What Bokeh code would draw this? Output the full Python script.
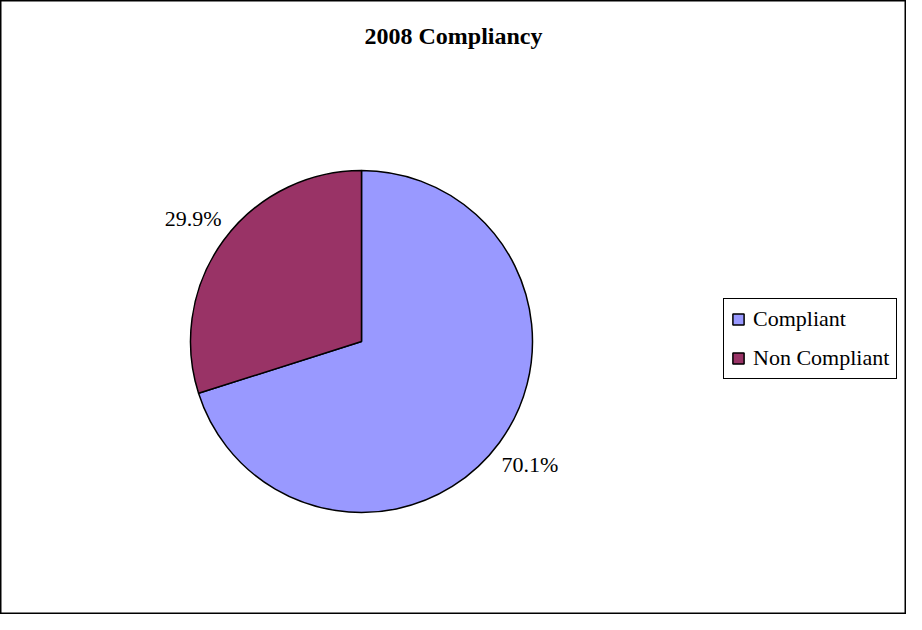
import math
from bokeh.plotting import figure
from bokeh.models import ColumnDataSource, Range1d, Label, Legend, LegendItem
from bokeh.embed import file_html
from bokeh.resources import INLINE

# Data
categories = ["Compliant", "Non Compliant"]
shares = [70.1, 29.9]
colors = ["#9999FF", "#993366"]
title_text = "2008 Compliancy"

W, H = 906, 614
p = figure(width=W, height=H, output_backend="svg", toolbar_location=None,
           x_range=Range1d(0, W), y_range=Range1d(0, H),
           x_axis_type=None, y_axis_type=None, min_border=0,
           outline_line_color="black", outline_line_width=2, outline_line_alpha=1)
p.grid.visible = False
p.background_fill_color = "white"

cx, cy, r = 361, 273, 171
top = math.pi / 2
comp = shares[0] / 100 * 2 * math.pi
non = shares[1] / 100 * 2 * math.pi
start = [top - comp, top]
end = [top, top + non]
mids = [(s + e) / 2 for s, e in zip(start, end)]
k = 1.22
lx = [cx + k * r * math.cos(m) for m in mids]
ly = [cy + k * r * math.sin(m) for m in mids]
labels = [f"{v:.1f}%" for v in shares]

src = ColumnDataSource(dict(cat=categories, start=start, end=end, color=colors,
                            lx=lx, ly=ly, lab=labels))

w = p.wedge(x=cx, y=cy, radius=r, radius_units="screen", start_angle="start", end_angle="end",
            fill_color="color", line_color="black", line_width=1.5, source=src)

p.text(x="lx", y="ly", text="lab", source=src, text_font="Liberation Serif",
       text_font_size="22px", text_align="center", text_baseline="middle", text_color="black")

p.add_layout(Label(x=W / 2, y=H - 22, text=title_text, text_font="Liberation Serif",
                   text_font_size="24px", text_font_style="bold", text_align="center",
                   text_color="black", text_baseline="top", x_units="screen", y_units="screen"))

items = [LegendItem(label=c, renderers=[w], index=i) for i, c in enumerate(categories)]
legend = Legend(items=items, location=(723, 235), orientation="vertical",
                label_text_font="Liberation Serif", label_text_font_size="22px",
                label_text_color="black",
                glyph_width=14, glyph_height=14, label_standoff=8,
                padding=7, spacing=13, margin=0,
                border_line_color="black", border_line_width=1, border_line_alpha=1,
                background_fill_color="white", background_fill_alpha=1)
p.add_layout(legend)

open("out.html", "w").write(file_html(p, INLINE))
